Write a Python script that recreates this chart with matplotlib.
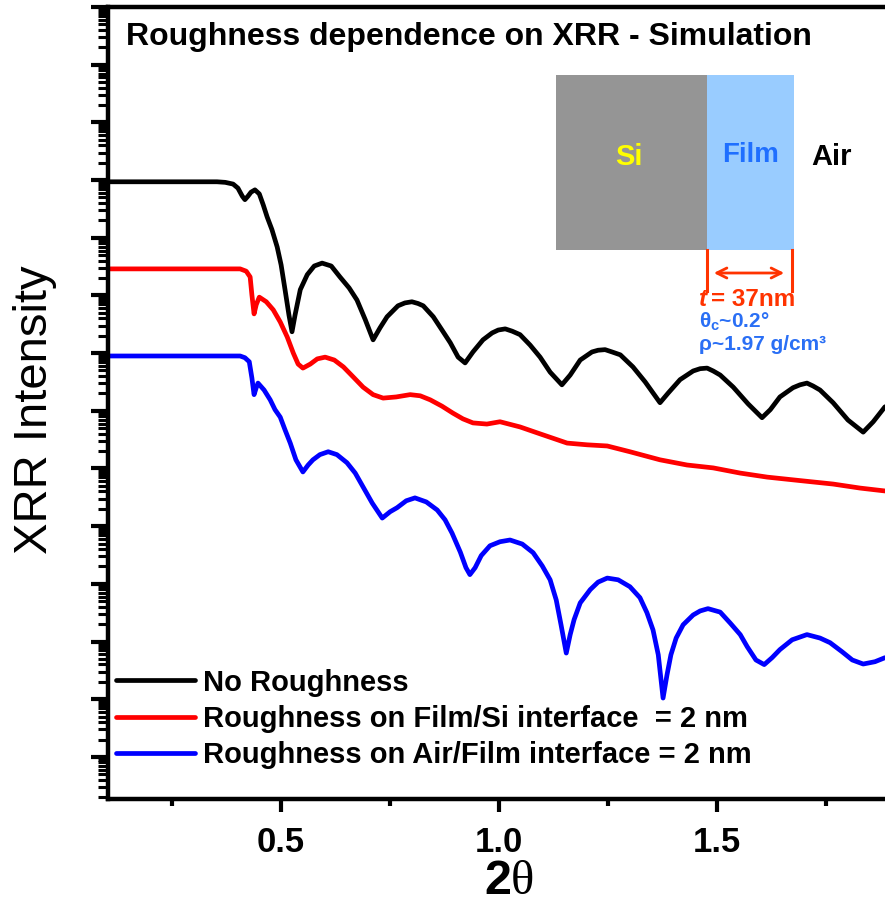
import matplotlib
matplotlib.use("Agg")
import matplotlib.pyplot as plt
import numpy as np
from matplotlib.patches import Rectangle, FancyArrowPatch
from matplotlib.ticker import LogLocator, NullFormatter

plt.rcParams['font.family'] = ['Liberation Sans', 'DejaVu Sans']
plt.rcParams['mathtext.fontset'] = 'custom'
plt.rcParams['mathtext.rm'] = 'Liberation Sans:bold'
plt.rcParams['mathtext.it'] = 'Liberation Sans:bold'
plt.rcParams['mathtext.bf'] = 'Liberation Sans:bold'

# simulated reflectivity curves, 2theta in degrees, intensity as log10
tth_none = [0.103, 0.200, 0.353, 0.372, 0.390, 0.401, 0.411, 0.417, 0.424, 0.431,
            0.440, 0.450, 0.459, 0.468, 0.479, 0.491, 0.500, 0.509, 0.518, 0.525,
            0.532, 0.544, 0.560, 0.576, 0.594, 0.615, 0.635, 0.656, 0.674, 0.693,
            0.711, 0.727, 0.743, 0.768, 0.784, 0.800, 0.814, 0.826, 0.849, 0.869,
            0.888, 0.906, 0.922, 0.940, 0.963, 0.984, 0.998, 1.014, 1.030, 1.048,
            1.071, 1.094, 1.117, 1.144, 1.163, 1.186, 1.213, 1.227, 1.243, 1.259,
            1.278, 1.307, 1.335, 1.369, 1.388, 1.415, 1.445, 1.461, 1.477, 1.491,
            1.507, 1.537, 1.571, 1.603, 1.622, 1.644, 1.674, 1.690, 1.706, 1.720,
            1.736, 1.766, 1.800, 1.835, 1.858, 1.885]
log_none = [-3.03, -3.03, -3.03, -3.04, -3.07, -3.14, -3.28, -3.34, -3.28, -3.21,
            -3.17, -3.24, -3.43, -3.64, -3.86, -4.16, -4.47, -4.90, -5.34, -5.63,
            -5.34, -4.90, -4.64, -4.49, -4.44, -4.49, -4.68, -4.87, -5.08, -5.42,
            -5.77, -5.56, -5.37, -5.18, -5.13, -5.11, -5.14, -5.18, -5.37, -5.60,
            -5.82, -6.07, -6.17, -5.98, -5.77, -5.65, -5.60, -5.58, -5.62, -5.68,
            -5.86, -6.07, -6.33, -6.55, -6.38, -6.12, -5.98, -5.95, -5.94, -5.98,
            -6.03, -6.24, -6.50, -6.86, -6.69, -6.46, -6.31, -6.27, -6.26, -6.31,
            -6.38, -6.59, -6.88, -7.12, -6.98, -6.76, -6.60, -6.55, -6.52, -6.57,
            -6.64, -6.86, -7.16, -7.37, -7.19, -6.93]

tth_fs = [0.103, 0.406, 0.420, 0.429, 0.433, 0.438, 0.443, 0.450, 0.466, 0.482,
          0.498, 0.514, 0.528, 0.539, 0.550, 0.567, 0.583, 0.601, 0.622, 0.643,
          0.665, 0.688, 0.711, 0.734, 0.764, 0.796, 0.819, 0.842, 0.869, 0.894,
          0.917, 0.940, 0.972, 1.002, 1.048, 1.094, 1.156, 1.202, 1.248, 1.300,
          1.369, 1.431, 1.491, 1.553, 1.615, 1.690, 1.766, 1.828, 1.885]
log_fs = [-4.54, -4.54, -4.58, -4.68, -4.99, -5.32, -5.16, -5.03, -5.11, -5.25,
          -5.46, -5.72, -6.00, -6.19, -6.26, -6.19, -6.10, -6.07, -6.12, -6.24,
          -6.41, -6.59, -6.72, -6.78, -6.76, -6.72, -6.74, -6.81, -6.92, -7.04,
          -7.14, -7.21, -7.23, -7.19, -7.28, -7.40, -7.56, -7.59, -7.61, -7.71,
          -7.85, -7.94, -7.99, -8.08, -8.15, -8.21, -8.27, -8.34, -8.39]

tth_af = [0.103, 0.406, 0.417, 0.427, 0.433, 0.438, 0.443, 0.447, 0.461, 0.475,
          0.486, 0.498, 0.509, 0.521, 0.534, 0.550, 0.562, 0.573, 0.589, 0.608,
          0.628, 0.651, 0.670, 0.688, 0.709, 0.732, 0.750, 0.766, 0.787, 0.807,
          0.833, 0.858, 0.876, 0.892, 0.911, 0.924, 0.933, 0.945, 0.959, 0.979,
          1.002, 1.025, 1.053, 1.078, 1.099, 1.117, 1.131, 1.142, 1.154, 1.163,
          1.172, 1.186, 1.209, 1.227, 1.248, 1.273, 1.300, 1.323, 1.339, 1.353,
          1.365, 1.376, 1.385, 1.394, 1.406, 1.422, 1.445, 1.461, 1.479, 1.507,
          1.530, 1.553, 1.569, 1.589, 1.608, 1.626, 1.644, 1.672, 1.706, 1.736,
          1.759, 1.787, 1.810, 1.835, 1.862, 1.885]
log_af = [-6.05, -6.05, -6.08, -6.15, -6.43, -6.72, -6.60, -6.52, -6.64, -6.81,
          -6.98, -7.11, -7.33, -7.56, -7.85, -8.06, -7.94, -7.85, -7.76, -7.71,
          -7.76, -7.90, -8.08, -8.32, -8.60, -8.86, -8.75, -8.68, -8.56, -8.51,
          -8.58, -8.72, -8.89, -9.12, -9.45, -9.72, -9.84, -9.72, -9.51, -9.34,
          -9.27, -9.24, -9.31, -9.46, -9.69, -9.93, -10.28, -10.71, -11.20, -10.88,
          -10.62, -10.33, -10.10, -9.97, -9.90, -9.93, -10.05, -10.24, -10.50, -10.80,
          -11.23, -11.98, -11.58, -11.23, -10.94, -10.71, -10.54, -10.47, -10.43, -10.49,
          -10.68, -10.88, -11.09, -11.32, -11.40, -11.28, -11.14, -10.97, -10.88, -10.94,
          -11.02, -11.18, -11.32, -11.39, -11.35, -11.28]

labels = ['No Roughness',
          'Roughness on Film/Si interface  = 2 nm',
          'Roughness on Air/Film interface = 2 nm']
colors = ['black', '#ff0000', '#0000ff']

W, H = 885, 907
fig = plt.figure(figsize=(W / 100, H / 100), dpi=100)

def fx(px):
    return px / W

def fy(py):
    return 1 - py / H

ax = fig.add_axes([fx(108), fy(799), (885 - 108) / W, 792 / H])
for t, l, c, lab in zip([tth_none, tth_fs, tth_af], [log_none, log_fs, log_af], colors, labels):
    ax.plot(t, 10 ** np.array(l), color=c, lw=3.4, label=lab,
            solid_joinstyle='round', solid_capstyle='round')

ax.set_yscale('log')
ax.set_xlim(0.103, 1.885)
ax.set_ylim(10 ** -13.73, 1)
ax.yaxis.set_major_locator(LogLocator(base=10, numticks=100))
ax.yaxis.set_minor_locator(LogLocator(base=10, subs=np.arange(2, 10), numticks=200))
ax.yaxis.set_major_formatter(NullFormatter())
ax.yaxis.set_minor_formatter(NullFormatter())
ax.set_xticks([0.5, 1.0, 1.5])
ax.set_xticks([0.25, 0.75, 1.25, 1.75], minor=True)
ax.set_xticklabels(['0.5', '1.0', '1.5'], fontsize=25, fontweight='bold')
ax.tick_params(axis='x', which='major', direction='out', length=9.5, width=3, pad=10)
ax.tick_params(axis='x', which='minor', direction='out', length=5, width=3)
ax.tick_params(axis='y', which='major', direction='out', length=12.5, width=3)
ax.tick_params(axis='y', which='minor', direction='out', length=7, width=2.2)
ax.tick_params(right=False, top=False, which='both')
for s in ['left', 'bottom', 'top']:
    ax.spines[s].set_linewidth(3.2)
ax.spines['right'].set_visible(False)

leg = ax.legend(loc='lower left', bbox_to_anchor=(8 / 777, 30 / 792), frameon=False,
                prop={'weight': 'bold', 'size': 21}, handlelength=2.7,
                handletextpad=0.27, labelspacing=0.28, borderpad=0, borderaxespad=0)

fig.text(fx(126), fy(37), 'Roughness dependence on XRR - Simulation',
         fontsize=23, fontweight='bold', ha='left', va='center')

fig.text(fx(35), fy(410), 'XRR Intensity', fontsize=34, rotation=90,
         ha='center', va='center')
fig.text(fx(511), fy(882), '2', fontsize=35, fontweight='bold', ha='right', va='center')
fig.text(fx(511), fy(882), 'θ', fontsize=35, family='Liberation Serif', ha='left', va='center')

# layer sketch
fig.add_artist(Rectangle((fx(556), fy(250)), (707 - 556) / W, 175 / H,
                         transform=fig.transFigure, color='#959595', lw=0))
fig.add_artist(Rectangle((fx(707), fy(250)), (794 - 707) / W, 175 / H,
                         transform=fig.transFigure, color='#99ccff', lw=0))
fig.text(fx(629), fy(157), 'Si', color='#ffff00', fontsize=21, fontweight='bold',
         ha='center', va='center')
fig.text(fx(751), fy(155), 'Film', color='#1f6fff', fontsize=20, fontweight='bold',
         ha='center', va='center')
fig.text(fx(811), fy(157), 'Air', color='black', fontsize=21, fontweight='bold',
         ha='left', va='center')

for px in [707, 792]:
    fig.add_artist(plt.Line2D([fx(px), fx(px)], [fy(250), fy(291)],
                              transform=fig.transFigure, color='#ff3300', lw=2.2))
fig.add_artist(FancyArrowPatch((fx(711), fy(273)), (fx(787), fy(273)),
                               transform=fig.transFigure, arrowstyle='<->',
                               mutation_scale=18, color='#ff3300', lw=2))
fig.text(fx(707), fy(299), 't', color='#ff3300', fontsize=17.5, fontweight='bold',
         style='italic', ha='right', va='center')
fig.text(fx(711), fy(299), '= 37nm', color='#ff3300', fontsize=17.5, fontweight='bold',
         ha='left', va='center')
fig.text(fx(699), fy(322), r'$\theta_c$~0.2°', color='#2a6ff5', fontsize=15,
         fontweight='bold', ha='left', va='center')
fig.text(fx(699), fy(344), 'ρ~1.97 g/cm³', color='#2a6ff5', fontsize=15,
         fontweight='bold', ha='left', va='center')

fig.savefig('out.png', dpi=100)
